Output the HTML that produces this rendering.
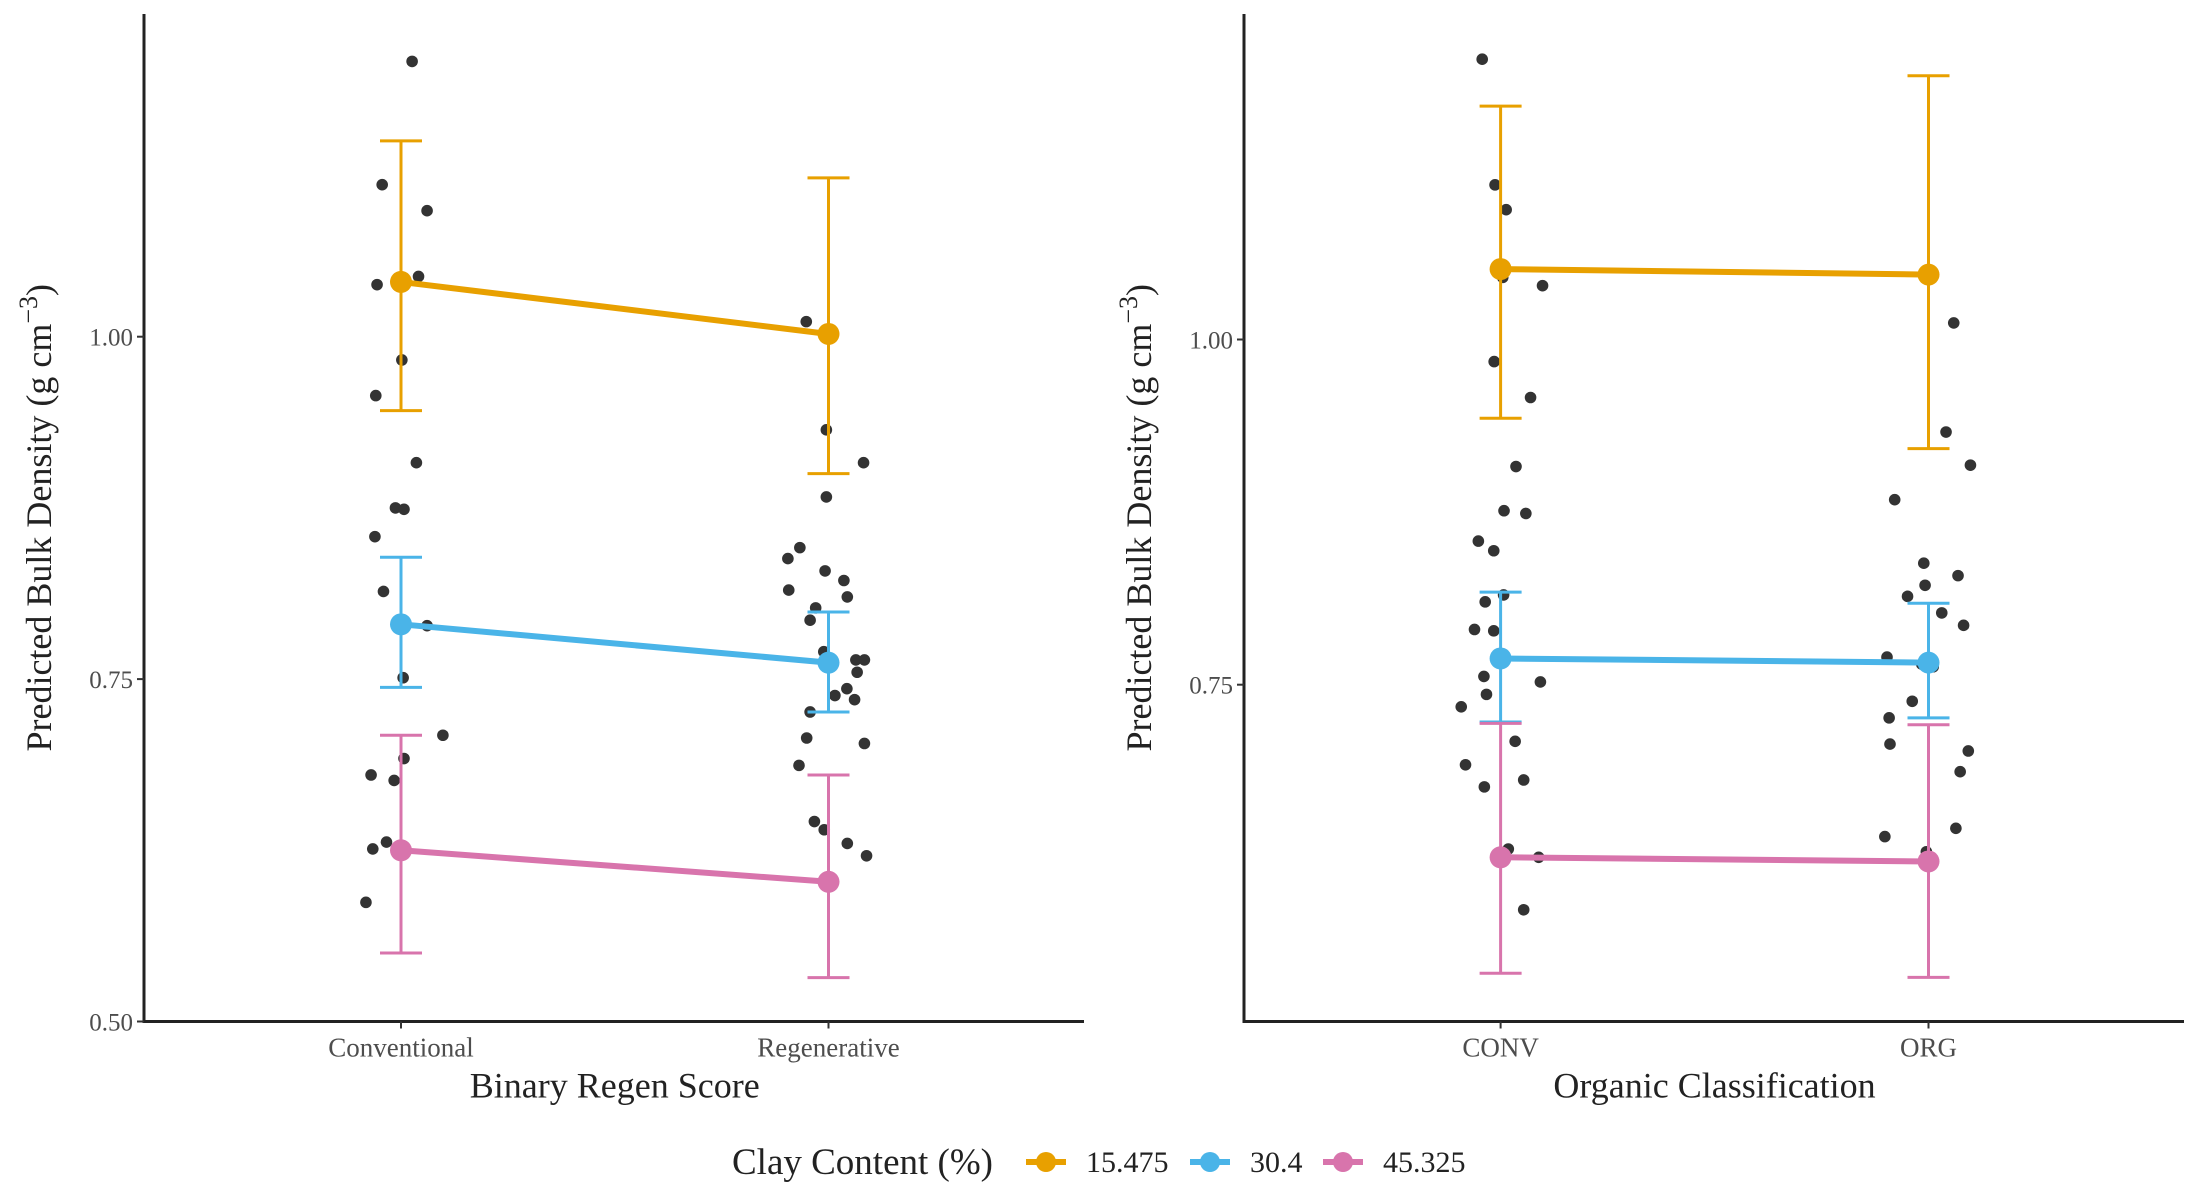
<!DOCTYPE html>
<html><head><meta charset="utf-8">
<style>
html,body{margin:0;padding:0;background:#fff;}
svg{display:block;font-family:"Liberation Serif",serif;}
</style></head>
<body>
<svg id="chart" width="2200" height="1200" viewBox="0 0 2200 1200" xmlns="http://www.w3.org/2000/svg"></svg>
<script>
// ---- data ----
const seriesNames = ["15.475", "30.4", "45.325"];
const seriesColors = ["#E8A000", "#4AB4E8", "#D874AC"];
// left panel: Binary Regen Score
const leftCategories = ["Conventional", "Regenerative"];
const leftMeans = [[1.040, 1.002], [0.790, 0.762], [0.625, 0.602]];
const leftUpper = [[1.143, 1.116], [0.839, 0.799], [0.709, 0.680]];
const leftLower = [[0.946, 0.900], [0.744, 0.726], [0.550, 0.532]];
const leftPtsCat = [0,0,0,0,0,0,0,0,0,0,0,0,0,0,0,0,0,0,0,0,0, 1,1,1,1,1,1,1,1,1,1,1,1,1,1,1,1,1,1,1,1,1,1,1,1,1,1,1];
const leftPtsJit = [0.026,-0.044,0.061,-0.056,0.041,0.002,-0.059,0.036,-0.013,0.007,-0.061,-0.041,0.061,0.005,0.098,0.007,-0.07,-0.016,-0.034,-0.066,-0.082,
 -0.052,-0.005,0.082,-0.005,-0.067,-0.095,-0.008,0.036,-0.093,0.044,-0.03,-0.043,-0.011,0.064,0.084,0.067,0.043,0.015,0.061,-0.043,-0.051,0.084,-0.069,-0.033,-0.01,0.044,0.089];
const leftPtsVal = [1.201,1.111,1.092,1.038,1.044,0.983,0.957,0.908,0.875,0.874,0.854,0.814,0.789,0.751,0.709,0.692,0.680,0.676,0.631,0.626,0.587,
 1.011,0.932,0.908,0.883,0.846,0.838,0.829,0.822,0.815,0.810,0.802,0.793,0.770,0.764,0.764,0.755,0.743,0.738,0.735,0.726,0.707,0.703,0.687,0.646,0.640,0.630,0.621];
const leftTicks = [0.50, 0.75, 1.00];
const leftTickLabels = ["0.50", "0.75", "1.00"];
// right panel: Organic Classification
const rightCategories = ["CONV", "ORG"];
const rightMeans = [[1.051, 1.047], [0.769, 0.766], [0.625, 0.622]];
const rightUpper = [[1.169, 1.191], [0.817, 0.809], [0.722, 0.721]];
const rightLower = [[0.943, 0.921], [0.723, 0.726], [0.541, 0.538]];
const rightPtsCat = [0,0,0,0,0,0,0,0,0,0,0,0,0,0,0,0,0,0,0,0,0,0,0,0,0,0,0, 1,1,1,1,1,1,1,1,1,1,1,1,1,1,1,1,1,1,1,1,1,1];
const rightPtsJit = [-0.043,-0.013,0.013,0.005,0.098,-0.015,0.07,0.036,0.008,0.059,-0.052,-0.016,-0.036,0.007,-0.061,-0.016,-0.039,-0.033,0.093,-0.092,0.034,-0.082,-0.038,0.054,0.018,0.089,0.054,
 0.059,0.041,0.098,-0.079,-0.011,0.069,-0.008,-0.049,0.031,0.082,-0.097,-0.016,0.011,-0.038,-0.092,-0.09,0.093,0.074,0.064,-0.102,-0.005,-0.007];
const rightPtsVal = [1.203,1.112,1.094,1.045,1.039,0.984,0.958,0.908,0.876,0.874,0.854,0.847,0.810,0.815,0.790,0.789,0.756,0.743,0.752,0.734,0.709,0.692,0.676,0.681,0.631,0.625,0.587,
 1.012,0.933,0.909,0.884,0.838,0.829,0.822,0.814,0.802,0.793,0.770,0.765,0.763,0.738,0.726,0.707,0.702,0.687,0.646,0.640,0.629,0.621];
const rightTicks = [0.75, 1.00];
const rightTickLabels = ["0.75", "1.00"];

const NS = "http://www.w3.org/2000/svg";
const svg = document.getElementById("chart");
function mk(tag, attrs, parent, text) {
  const e = document.createElementNS(NS, tag);
  for (const k in attrs) e.setAttribute(k, attrs[k]);
  if (text !== undefined) e.textContent = text;
  (parent || svg).appendChild(e);
  return e;
}

function panel(cfg) {
  const g = mk("g", {});
  
  
  const y = v => cfg.y0 - (v - cfg.v0) * cfg.pxPerUnit;
  const x = (c, j) => cfg.cx[0] + (c + (j || 0)) * (cfg.cx[1] - cfg.cx[0]);

  cfg.pv.forEach((v, i) => {
    const p = mk("circle", {cx: x(cfg.pc[i], cfg.pj[i]), cy: y(v), r: 5.8, fill: "#333333"}, g);
    
    
  });
  cfg.means.forEach((m, s) => {
    const col = seriesColors[s];
    m.forEach((v, c) => {
      const xc = x(c);
      const eb = mk("path", {d: `M${xc-21},${y(cfg.up[s][c])}H${xc+21}M${xc},${y(cfg.up[s][c])}V${y(cfg.lo[s][c])}M${xc-21},${y(cfg.lo[s][c])}H${xc+21}`,
        stroke: col, "stroke-width": 3, fill: "none"}, g);
      
      
    });
    const ln = mk("line", {x1: x(0), y1: y(m[0]), x2: x(1), y2: y(m[1]), stroke: col, "stroke-width": 6}, g);
    
    
    m.forEach((v, c) => {
      const pt = mk("circle", {cx: x(c), cy: y(v), r: 11, fill: col}, g);
      
      
    });
  });
  const ax = mk("path", {d: `M${cfg.ax},14V${cfg.ay}H${cfg.ax + 940}`, stroke: "#222", "stroke-width": 3, fill: "none"}, g);
  
  
  cfg.ticks.forEach((t, i) => {
    const tk = mk("line", {x1: cfg.ax - 7, x2: cfg.ax, y1: y(t), y2: y(t), stroke: "#333", "stroke-width": 2}, g);
    
    
    const tl = mk("text", {x: cfg.ax - 11, y: y(t) + 9, "text-anchor": "end", "font-size": 25, fill: "#4d4d4d"}, g, cfg.tickLabels[i]);
    
    
  });
  cfg.cats.forEach((c, i) => {
    const tk = mk("line", {x1: x(i), x2: x(i), y1: cfg.ay, y2: cfg.ay + 7, stroke: "#333", "stroke-width": 2}, g);
    
    
    const tl = mk("text", {x: x(i), y: cfg.ay + 35, "text-anchor": "middle", "font-size": 27, fill: "#4d4d4d"}, g, c);
    
    
  });
  const xt = mk("text", {x: (x(0) + x(1)) / 2, y: cfg.ay + 76, "text-anchor": "middle", "font-size": 36, fill: "#222"}, g, cfg.xTitle);
  
  
  const yt = mk("text", {transform: `translate(${cfg.ax - 93},${(14 + cfg.ay) / 2}) rotate(-90)`, "text-anchor": "middle", "font-size": 36, fill: "#222"}, g);
  
  
  mk("tspan", {}, yt, "Predicted Bulk Density (g cm");
  mk("tspan", {dy: -14, "font-size": 26}, yt, "\u22123");
  mk("tspan", {dy: 14}, yt, ")");
}

panel({name: "left-panel", y0: 1021.5, v0: 0.5, pxPerUnit: 1369.6, cx: [401, 828.5], ax: 144, ay: 1021.5,
  means: leftMeans, up: leftUpper, lo: leftLower, pc: leftPtsCat, pj: leftPtsJit, pv: leftPtsVal,
  ticks: leftTicks, tickLabels: leftTickLabels, cats: leftCategories, xTitle: "Binary Regen Score"});
panel({name: "right-panel", y0: 684.7, v0: 0.75, pxPerUnit: 1380.8, cx: [1500.6, 1928.5], ax: 1244, ay: 1021.5,
  means: rightMeans, up: rightUpper, lo: rightLower, pc: rightPtsCat, pj: rightPtsJit, pv: rightPtsVal,
  ticks: rightTicks, tickLabels: rightTickLabels, cats: rightCategories, xTitle: "Organic Classification"});

const lg = mk("g", {});


const ltitle = mk("text", {x: 732, y: 1174, "font-size": 37, fill: "#222"}, lg, "Clay Content (%)");


const keyX = [1026, 1190, 1323];
seriesNames.forEach((n, i) => {
  const e = mk("g", {}, lg);
  
  
  mk("line", {x1: keyX[i], x2: keyX[i] + 40, y1: 1162, y2: 1162, stroke: seriesColors[i], "stroke-width": 6}, e);
  mk("circle", {cx: keyX[i] + 20, cy: 1162, r: 10, fill: seriesColors[i]}, e);
  mk("text", {x: keyX[i] + 60, y: 1172, "font-size": 30, fill: "#222"}, e, n);
});
</script>
</body></html>
